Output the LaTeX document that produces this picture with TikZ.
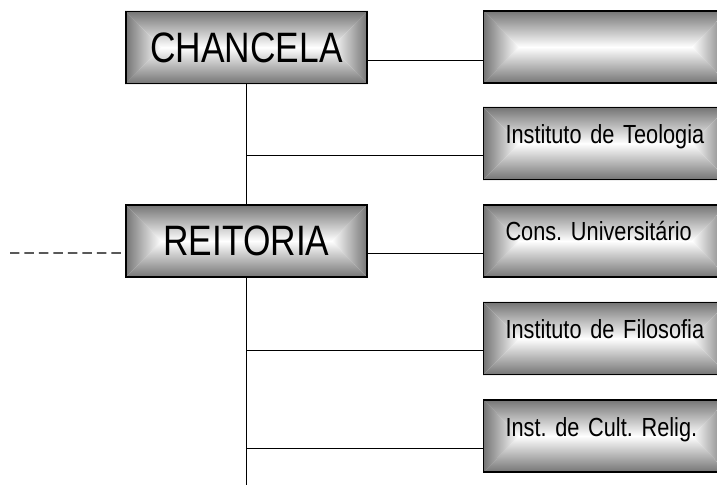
\documentclass[tikz,border=0pt]{standalone}
\usepackage{fontspec}
\setmainfont{Liberation Sans}[FakeStretch=0.83, WordSpace=0.8]
\usetikzlibrary{backgrounds}
\definecolor{rim}{gray}{0.45}
\frenchspacing
\newcommand\glow[1]{
    \coordinate (gl) at ([xshift=0.72cm]#1.west);
    \coordinate (gr) at ([xshift=-0.72cm]#1.east);
    \shade[top color=rim, bottom color=white] (#1.north west) -- (#1.north east) -- (gr) -- (gl) -- cycle;
    \shade[top color=white, bottom color=rim] (gl) -- (gr) -- (#1.south east) -- (#1.south west) -- cycle;
    \shade[left color=rim, right color=white] (#1.north west) -- (gl) -- (#1.south west) -- cycle;
    \shade[left color=white, right color=rim] (#1.north east) -- (gr) -- (#1.south east) -- cycle;
}
\tikzset{
  unit/.style={rectangle, draw=black, line width=0.8pt, minimum width=4.82cm, minimum height=1.44cm, inner sep=0pt},
  head/.style={unit, font=\fontsize{24.2}{26}\selectfont},
  office/.style={unit, font=\fontsize{14.9}{16}\selectfont, text width=4cm, align=left, inner xsep=0.435cm, text height=0.3cm, text depth=0.3cm},
  link/.style={line width=0.5pt},
}
\begin{document}
\begin{tikzpicture}[x=0.02cm, y=-0.02cm]
        \useasboundingbox (0,0) rectangle (717,486);
        \clip (0,0) rectangle (717,486);
        \node[head] (chancela) at (246.5,47.5) {CHANCELA};
        \node[head] (reitoria) at (246.5,241) {REITORIA};
        \node[office] (topo) at (605.5,47) {};
        \node[office] (teologia) at (605.5,143.5) {Instituto de Teologia};
        \node[office] (cons) at (605.5,241) {Cons. Universitário};
        \node[office] (filosofia) at (605.5,338.5) {Instituto de Filosofia};
        \node[office] (religiao) at (605.5,436) {Inst. de Cult. Relig.};
        \begin{pgfonlayer}{background}
            \foreach \n in {chancela,reitoria,topo,teologia,cons,filosofia,religiao}
                {\glow{\n}}
        \end{pgfonlayer}
        \coordinate (fim) at (246.5,485);
        \coordinate (fora) at (10,253);
        \draw[link] (chancela.south) -- (reitoria.north);
        \draw[link] (reitoria.south) -- (fim);
        \draw[link] ([yshift=-0.25cm]chancela.east) -- ([yshift=-0.25cm]chancela.east -| topo.west);
        \draw[link] ([yshift=-0.24cm]reitoria.east) -- ([yshift=-0.24cm]cons.west);
        \foreach \n in {teologia,filosofia,religiao}
            \draw[link] ([yshift=-0.24cm]\n.west) -- ([yshift=-0.24cm]\n.west -| chancela.south);
        \draw[link, line width=0.75pt, dash pattern=on 0.19cm off 0.1cm] (fora) -- ([yshift=-0.24cm]reitoria.west);
    \end{tikzpicture}
\end{document}
